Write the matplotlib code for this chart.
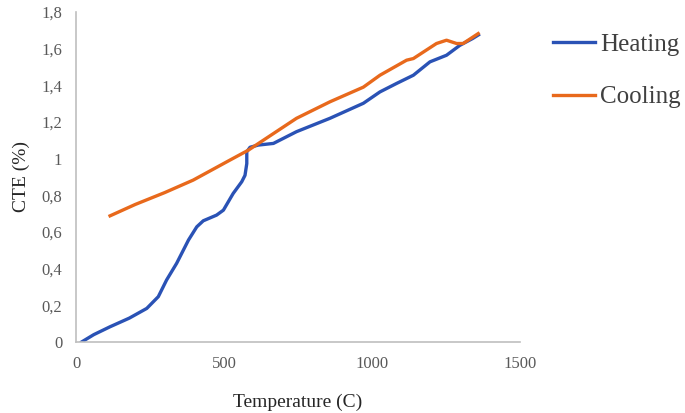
import matplotlib.pyplot as plt
from matplotlib.ticker import FuncFormatter

# Values
heating_temp = [19, 60, 115, 180, 239, 278, 306, 340, 380, 408, 430, 475, 498,
                531, 560, 571, 577, 577, 588, 616, 667, 745, 858, 971, 1027,
                1083, 1140, 1196, 1252, 1297, 1340, 1360]
heating_cte = [0.0, 0.04, 0.083, 0.13, 0.183, 0.247, 0.338, 0.429, 0.556,
               0.628, 0.661, 0.692, 0.719, 0.81, 0.874, 0.909, 0.973, 1.037,
               1.062, 1.074, 1.083, 1.147, 1.22, 1.302, 1.364, 1.41, 1.455,
               1.528, 1.564, 1.618, 1.655, 1.675]

cooling_temp = [115, 200, 300, 396, 520, 582, 745, 858, 971, 1027, 1117,
                1140, 1218, 1252, 1286, 1308, 1359]
cooling_cte = [0.688, 0.75, 0.815, 0.883, 0.992, 1.046, 1.22, 1.31, 1.39,
               1.455, 1.537, 1.546, 1.628, 1.646, 1.628, 1.628, 1.682]

x_ticks = [0, 500, 1000, 1500]
y_ticks = [0, 0.2, 0.4, 0.6, 0.8, 1.0, 1.2, 1.4, 1.6, 1.8]

plt.rcParams['font.family'] = ['Liberation Serif', 'DejaVu Serif']

fig = plt.figure(figsize=(6.85, 4.13), dpi=100)
ax = fig.add_axes([0.111, 0.172, 0.648, 0.799])

ax.plot(heating_temp, heating_cte, color='#2a52b5', lw=2.4, label='Heating')
ax.plot(cooling_temp, cooling_cte, color='#e8691c', lw=2.4, label='Cooling')

ax.set_xlim(0, 1500)
ax.set_ylim(0, 1.8)
ax.set_xticks(x_ticks)
ax.set_yticks(y_ticks)


def comma_fmt(v, pos):
    s = f'{v:g}'
    return s.replace('.', ',')


ax.yaxis.set_major_formatter(FuncFormatter(comma_fmt))
ax.tick_params(length=0, labelsize=12, labelcolor='#595959', pad=10)

for side in ['top', 'right']:
    ax.spines[side].set_visible(False)
for side in ['left', 'bottom']:
    ax.spines[side].set_color('#bfbfbf')
    ax.spines[side].set_linewidth(1.2)

ax.set_xlabel('Temperature (C)', fontsize=14, color='#262626', labelpad=16)
ax.set_ylabel('CTE (%)', fontsize=14, color='#262626', labelpad=8)

ax.legend(loc='upper left', bbox_to_anchor=(1.074, 0.935), frameon=False,
          fontsize=18, handlelength=1.7, labelspacing=1.2, handletextpad=0.2,
          borderaxespad=0, borderpad=0, labelcolor='#404040')

fig.savefig('out.png', dpi=100)
